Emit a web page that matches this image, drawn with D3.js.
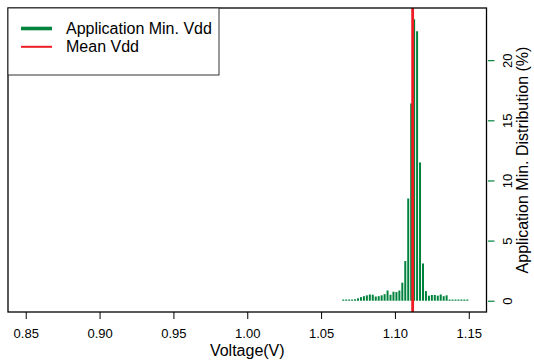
<!DOCTYPE html>
<html>
<head>
<meta charset="utf-8">
<script src="https://cdn.jsdelivr.net/npm/d3@7"></script>
<style>
  body { margin: 0; background: #fff; }
  text { font-family: "Liberation Sans", Arial, Helvetica, sans-serif; fill: #000; }
</style>
</head>
<body>
<div id="chart"></div>
<script>

// measured voltages (V) of the histogram bins
let voltages = [1.065, 1.067, 1.069, 1.071, 1.073, 1.075, 1.077, 1.079, 1.081, 1.083,
                1.085, 1.087, 1.089, 1.091, 1.093, 1.095, 1.097, 1.099, 1.101, 1.103,
                1.105, 1.107, 1.109, 1.111, 1.113, 1.115, 1.117, 1.119, 1.121, 1.123,
                1.125, 1.127, 1.129, 1.131, 1.133, 1.135, 1.137, 1.139, 1.141, 1.143,
                1.145, 1.147, 1.149];

// share of applications (%) with that minimum vdd
let distribution = [0.1, 0.1, 0.1, 0.1, 0.12, 0.2, 0.3, 0.38, 0.45, 0.52,
                    0.5, 0.35, 0.38, 0.45, 0.55, 0.85, 0.5, 0.75, 0.72, 0.85,
                    1.5, 3.3, 8.5, 16.4, 23.4, 22.4, 11.5, 3.1, 0.8, 0.42,
                    0.48, 0.48, 0.42, 0.52, 0.38, 0.45, 0.1, 0.1, 0.1, 0.1,
                    0.1, 0.1, 0.1];

let mean_vdd = 1.112;

let x_ticks = [0.85, 0.90, 0.95, 1.00, 1.05, 1.10, 1.15];
let y_ticks = [0, 5, 10, 15, 20];

let legend_labels = ["Application Min. Vdd", "Mean Vdd"];

let width = 534,
    height = 360,
    green = "#00843d",
    red = "#ee1d23";

// plot region (like R's plt)
let box = {left: 8, right: 486.5, top: 8, bottom: 312};

let svg = d3.select("#chart").append("svg")
    .attr("width", width)
    .attr("height", height);

// R style axis limits: data range stretched by 4% on each side
let xlim = [0.85, 1.15],
    xpad = (xlim[1] - xlim[0]) * 0.04,
    ylim = [0, d3.max(distribution)],
    ypad = (ylim[1] - ylim[0]) * 0.04;

let x = d3.scaleLinear()
    .domain([xlim[0] - xpad, xlim[1] + xpad])
    .range([box.left, box.right]);

let y = d3.scaleLinear()
    .domain([ylim[0] - ypad, ylim[1] + ypad])
    .range([box.bottom, box.top]);

///////////////////
// histogram bars (type = "h")
///////////////////

svg.append("g").selectAll("line")
    .data(voltages)
    .enter().append("line")
    .attr("x1", d => x(d))
    .attr("x2", d => x(d))
    .attr("y1", y(0))
    .attr("y2", (d, i) => y(distribution[i]))
    .style("stroke", green)
    .style("stroke-width", 2);

// mean line
svg.append("line")
    .attr("x1", x(mean_vdd))
    .attr("x2", x(mean_vdd))
    .attr("y1", box.top)
    .attr("y2", box.bottom)
    .style("stroke", red)
    .style("stroke-width", 2.8);

// frame
svg.append("rect")
    .attr("x", box.left)
    .attr("y", box.top)
    .attr("width", box.right - box.left)
    .attr("height", box.bottom - box.top)
    .style("fill", "none")
    .style("stroke", "#000")
    .style("stroke-width", 1.3);

///////////////////
// axes
///////////////////

let xaxis = svg.append("g")
    .attr("transform", "translate(0," + box.bottom + ")")
    .call(d3.axisBottom(x).tickValues(x_ticks).tickFormat(d3.format(".2f")).tickSize(7));

xaxis.select(".domain").remove();
xaxis.selectAll("line").style("stroke", "#000").style("stroke-width", 1);
xaxis.selectAll("text")
    .attr("y", 26).attr("dy", null).attr("font-family", null)
    .style("font-size", "13px");

svg.append("text")
    .attr("x", (box.left + box.right) / 2)
    .attr("y", 356)
    .attr("text-anchor", "middle")
    .style("font-size", "16px")
    .text("Voltage(V)");

// right axis, ticks in green, set off from the frame
let yaxis = svg.append("g")
    .attr("transform", "translate(488,0)")
    .call(d3.axisRight(y).tickValues(y_ticks).tickSize(6.5).tickFormat(d3.format("d")));

yaxis.select(".domain").remove();
yaxis.selectAll("line").style("stroke", green).style("stroke-width", 1.2);
yaxis.selectAll("text")
    .attr("x", null).attr("dy", null).attr("font-family", null)
    .attr("text-anchor", "middle")
    .attr("transform", "translate(23.5,0) rotate(-90)")
    .style("font-size", "13px");

svg.append("text")
    .attr("transform", "translate(528," + (box.top + box.bottom) / 2 + ") rotate(-90)")
    .attr("text-anchor", "middle")
    .style("font-size", "16px")
    .text("Application Min. Distribution (%)");

///////////////////
// legend (topleft)
///////////////////

let legend = svg.append("g");

legend.append("rect")
    .attr("x", box.left)
    .attr("y", box.top)
    .attr("width", 211)
    .attr("height", 67)
    .style("fill", "#fff")
    .style("stroke", "#333")
    .style("stroke-width", 1);

let legend_colors = [green, red],
    legend_widths = [3.6, 2];

legend.selectAll(".key").data(legend_labels).enter().append("line")
    .attr("class", "key")
    .attr("x1", 21)
    .attr("x2", 52)
    .attr("y1", (d, i) => 28.5 + i * 18.3)
    .attr("y2", (d, i) => 28.5 + i * 18.3)
    .style("stroke", (d, i) => legend_colors[i])
    .style("stroke-width", (d, i) => legend_widths[i]);

legend.selectAll(".label").data(legend_labels).enter().append("text")
    .attr("class", "label")
    .attr("x", 66)
    .attr("y", (d, i) => 34 + i * 18.3)
    .style("font-size", "16px")
    .text(d => d);

</script>
</body>
</html>
